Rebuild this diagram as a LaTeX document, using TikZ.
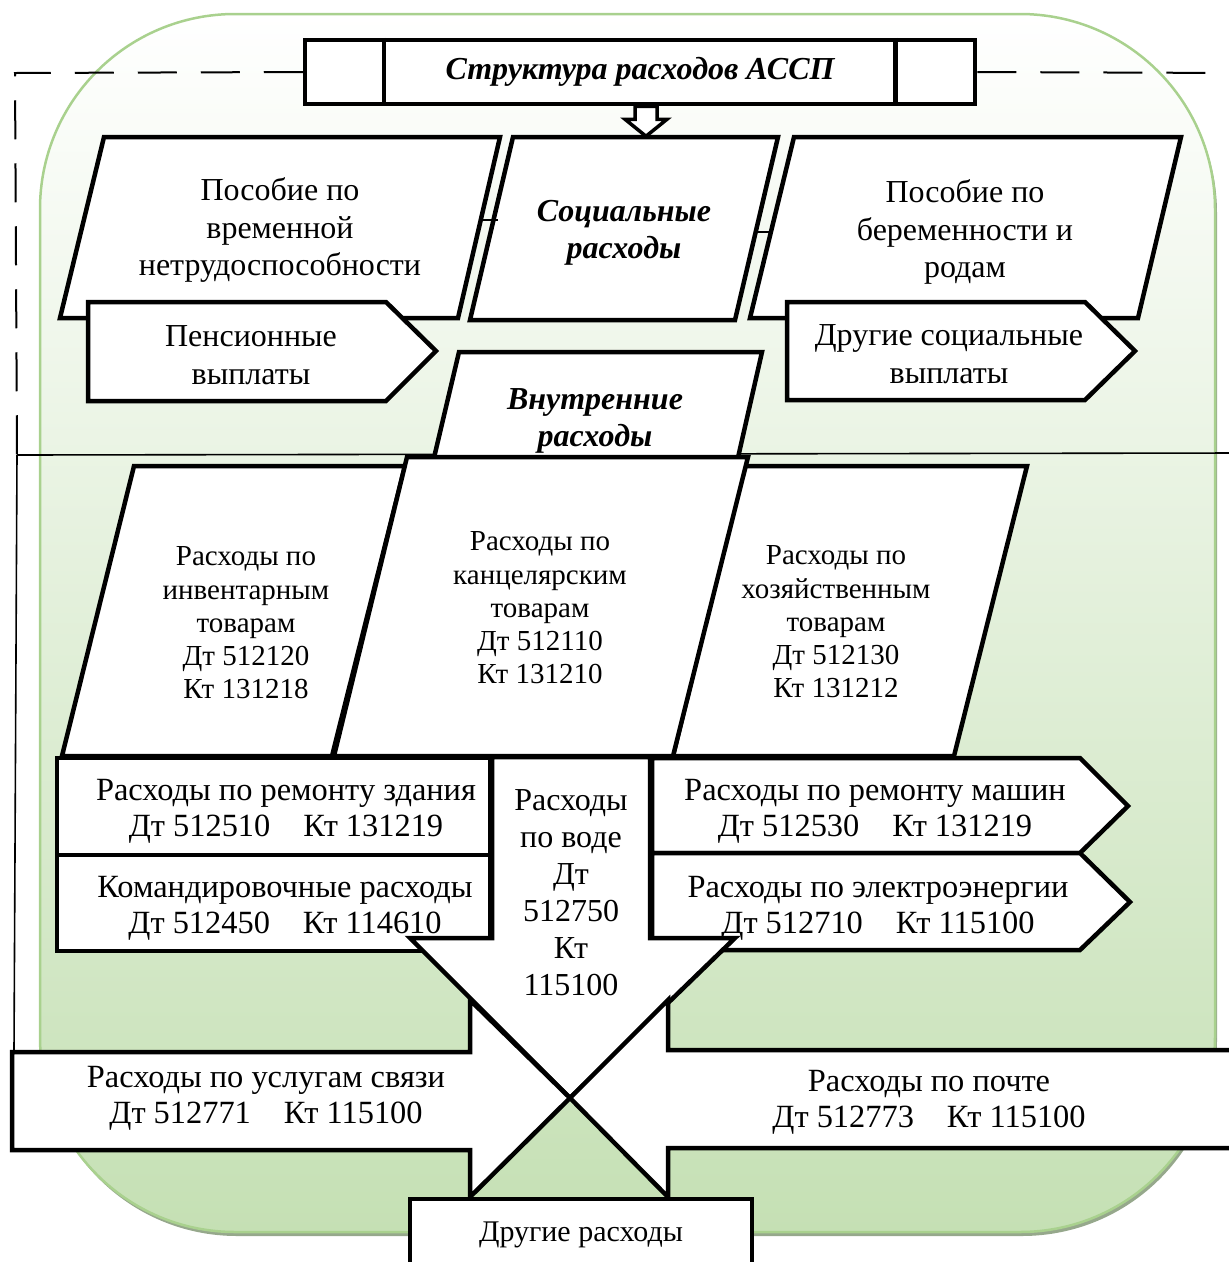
\documentclass[tikz,border=0pt]{standalone}
\usepackage{fontspec}
\setmainfont{Liberation Serif}
\definecolor{bggreen}{RGB}{197,224,180}
\definecolor{bgborder}{RGB}{169,209,142}
\definecolor{bgshadow}{RGB}{150,168,140}

\begin{document}
\begin{tikzpicture}[x=1pt,y=-1pt,
  blk/.style={draw=black, line width=4.5pt, fill=white, line join=miter},
  thinline/.style={draw=black, line width=1.6pt},
  dashline/.style={draw=black, line width=2pt, dash pattern=on 39pt off 24pt},
  lbl/.style={align=center, inner sep=0pt, text=black},
  big/.style={lbl, font=\fontsize{32}{37.5}\selectfont},
  mid/.style={lbl, font=\fontsize{32.4}{36}\selectfont},
  sml/.style={lbl, font=\fontsize{29}{33.3}\selectfont},
  hdr/.style={lbl, font=\fontsize{32}{37.5}\selectfont\bfseries\itshape},
]
\useasboundingbox (0,0) rectangle (1229,1262);
\clip (0,0) rectangle (1229,1262);

% rounded background panel
\fill[bgshadow, rounded corners=195pt] (42,18) rectangle (1217,1236);
\shade[top color=white, bottom color=bggreen, rounded corners=195pt] (40,14) rectangle (1215,1232);
\draw[bgborder, line width=2.5pt, rounded corners=195pt] (40,14) rectangle (1215,1232);

% title block
\node[draw=black, line width=4.5pt, fill=white, minimum width=670pt, minimum height=64pt,
      inner sep=0pt, hdr] (title) at (640,72) {Структура расходов АССП};
\draw[line width=4.5pt] ([xshift=81pt]title.north west) -- ([xshift=81pt]title.south west);
\draw[line width=4.5pt] ([xshift=-82pt]title.north east) -- ([xshift=-82pt]title.south east);

% frame lines
\coordinate (dL1) at (15,73);
\coordinate (dL2) at (17,455);
\coordinate (dR) at (1240,73);
\coordinate (hR) at (1240,453);
\coordinate (svTop) at (14,1052);
\draw[dashline] (title.west) -- (dL1) -- (dL2);
\draw[dashline] (title.east) -- (dR);
\draw[thinline] (dL2) -- (svTop);
\draw[thinline] (dL2) -- (hR);

% small down arrow under the title
\draw[line width=3.5pt, fill=white, line join=miter]
  ([xshift=-5pt]title.south) -- ++(0,13) -- ++(-10,0) -- ++(21,17) -- ++(21,-17)
  -- ++(-10,0) -- ++(0,-13) -- cycle;

% social expenses row
\path[blk] (104,137) -- (500,137) -- (458,318) -- (60,318) -- cycle;
\node[big] (socL) at (280,230) {Пособие по\\временной\\нетрудоспособности};
\path[blk] (513,137) -- (778,137) -- (735,320) -- (470,320) -- cycle;
\node[hdr] (socM) at (624,233) {Социальные\\расходы};
\path[blk] (794,137) -- (1181,137) -- (1138,318) -- (750,318) -- cycle;
\node[big] (socR) at (965,232) {Пособие по\\беременности и\\родам};
\coordinate (cA1) at (481,220); \coordinate (cA2) at (498,220);
\coordinate (cB1) at (756,232); \coordinate (cB2) at (770,232);
\draw[thinline] (cA1) -- (cA2);
\draw[thinline] (cB1) -- (cB2);

\path[blk] (88,302) -- (386,302) -- (436,351) -- (386,401) -- (88,401) -- cycle;
\node[big] (pens) at (251,355) {Пенсионные\\выплаты};
\path[blk] (787,302) -- (1085,302) -- (1135,351) -- (1085,400) -- (787,400) -- cycle;
\node[big] (othsoc) at (949,354) {Другие социальные\\выплаты};

% internal expenses
\path[blk] (459,352) -- (762,352) -- (737,462) -- (433,462) -- cycle;
\node[hdr] (vnutr) at (595,421) {Внутренние\\расходы};

\path[blk] (134,466) -- (405,466) -- (332,756) -- (62,756) -- cycle;
\node[sml] (inv) at (246,623) {Расходы по\\инвентарным\\товарам\\Дт 512120\\Кт 131218};
\path[blk] (744,466) -- (1027,466) -- (954,756) -- (673,756) -- cycle;
\node[sml] (hoz) at (836,622) {Расходы по\\хозяйственным\\товарам\\Дт 512130\\Кт 131212};
\path[blk] (407,457) -- (748,457) -- (673,756) -- (334,756) -- cycle;
\node[sml] (kanc) at (540,608) {Расходы по\\канцелярским\\товарам\\Дт 512110\\Кт 131210};

% left boxes
\path[blk] (57,758) rectangle (490,855);
\node[mid] (zdan) at (286,811) {Расходы по ремонту здания\\Дт 512510\hspace{33pt}Кт 131219};
\path[blk] (57,855) rectangle (490,951);
\node[mid] (kom) at (285,908) {Командировочные расходы\\Дт 512450\hspace{33pt}Кт 114610};

% right boxes
\path[blk] (652,758) -- (1080,758) -- (1128,806) -- (1080,853) -- (652,853) -- cycle;
\node[mid] (mash) at (875,811) {Расходы по ремонту машин\\Дт 512530\hspace{33pt}Кт 131219};
\path[blk] (652,853) -- (1080,853) -- (1130,902) -- (1080,950) -- (652,950) -- cycle;
\node[mid] (elek) at (878,908) {Расходы по электроэнергии\\Дт 512710\hspace{33pt}Кт 115100};

% water arrow
\path[blk] (492,757) -- (650,757) -- (650,938) -- (735,938) -- (570,1098) -- (410,938)
  -- (492,938) -- cycle;
\node[lbl, font=\fontsize{32}{37}\selectfont] (voda) at (571,893) {Расходы\\по воде\\Дт\\512750\\Кт\\115100};

% communication and post arrows
\path[blk] (12,1052) -- (470,1052) -- (470,1000) -- (570,1098) -- (470,1197) -- (470,1150)
  -- (12,1150) -- cycle;
\node[mid] (svyaz) at (266,1098) {Расходы по услугам связи\\Дт 512771\hspace{33pt}Кт 115100};
\path[blk] (1245,1050) -- (668,1050) -- (668,1000) -- (570,1098) -- (668,1197) -- (668,1148)
  -- (1245,1148) -- cycle;
\node[mid] (pochta) at (929,1102) {Расходы по почте\\Дт 512773\hspace{33pt}Кт 115100};

% other expenses
\path[blk] (410,1199) rectangle (752,1290);
\node[lbl, font=\fontsize{30}{34}\selectfont] (drug) at (581,1235) {Другие расходы};

\end{tikzpicture}
\end{document}
